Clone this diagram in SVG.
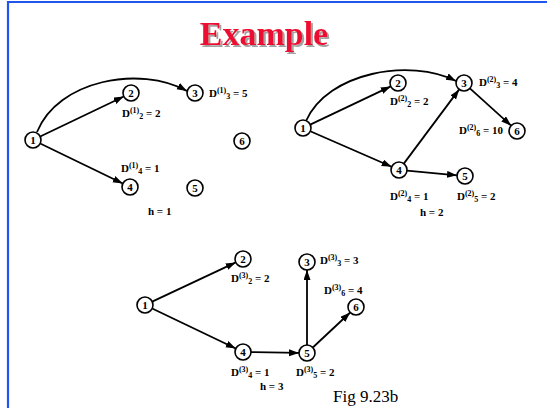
<svg xmlns="http://www.w3.org/2000/svg" width="547" height="408" viewBox="0 0 547 408">
<style>
.node circle{fill:#fff;stroke:#000;stroke-width:1.6}
.node text{font-family:"Liberation Serif",serif;font-weight:bold;font-size:11px;text-anchor:middle}
.lbl{font-family:"Liberation Serif",serif;font-weight:bold;font-size:11px;fill:#000}
.s{font-size:8px}
.edges path,.edges line{stroke:#000;stroke-width:1.8;fill:none;marker-end:url(#ah)}
</style>
<defs>
<marker id="ah" markerUnits="userSpaceOnUse" markerWidth="11" markerHeight="8" refX="10" refY="3.5" orient="auto">
<path d="M0,0 L10,3.5 L0,7 z" fill="#000"/>
</marker>
<filter id="sh" x="-10%" y="-20%" width="120%" height="150%">
<feDropShadow dx="2" dy="2" stdDeviation="0.6" flood-color="#999" flood-opacity="0.9"/>
</filter>
</defs>
<rect width="547" height="408" fill="#fff"/>
<path d="M8,408 V2 H547" fill="none" stroke="#2255ee" stroke-width="2.2"/>
<text x="264" y="45" font-family="Liberation Serif,serif" font-weight="bold" font-size="34" fill="#ee1133" text-anchor="middle" filter="url(#sh)">Example</text>

<g class="edges">
<line x1="40.2" y1="136.5" x2="123.8" y2="96.5"/>
<line x1="40.2" y1="143.5" x2="122.8" y2="183.5"/>
<path d="M37,132 C58,80 140,65 187,91"/>
<line x1="310.2" y1="124.6" x2="390.8" y2="86.4"/>
<line x1="310.3" y1="131.2" x2="391.7" y2="166.8"/>
<path d="M306,121 C328,72 410,58 456,81"/>
<line x1="403.8" y1="163.6" x2="459.2" y2="89.4"/>
<line x1="469.9" y1="88.4" x2="511.1" y2="125.6"/>
<line x1="407" y1="170.7" x2="457" y2="175.3"/>
<line x1="152.2" y1="301.6" x2="235.8" y2="262.4"/>
<line x1="152.2" y1="308.5" x2="235.8" y2="348.5"/>
<line x1="251" y1="352.1" x2="299" y2="352.9"/>
<line x1="307" y1="345" x2="307" y2="270"/>
<line x1="312.8" y1="347.5" x2="350.2" y2="312.5"/>
</g>

<g id="p1n1" class="node"><circle cx="33" cy="140" r="8"/><text x="33" y="144">1</text></g>
<g id="p1n2" class="node"><circle cx="131" cy="93" r="8"/><text x="131" y="97">2</text></g>
<g id="p1n3" class="node"><circle cx="195" cy="93" r="8"/><text x="195" y="97">3</text></g>
<g id="p1n4" class="node"><circle cx="130" cy="187" r="8"/><text x="130" y="191">4</text></g>
<g id="p1n5" class="node"><circle cx="195" cy="188" r="8"/><text x="195" y="192">5</text></g>
<g id="p1n6" class="node"><circle cx="242" cy="141" r="8"/><text x="242" y="145">6</text></g>

<g id="p2n1" class="node"><circle cx="303" cy="128" r="8"/><text x="303" y="132">1</text></g>
<g id="p2n2" class="node"><circle cx="398" cy="83" r="8"/><text x="398" y="87">2</text></g>
<g id="p2n3" class="node"><circle cx="464" cy="83" r="8"/><text x="464" y="87">3</text></g>
<g id="p2n4" class="node"><circle cx="399" cy="170" r="8"/><text x="399" y="174">4</text></g>
<g id="p2n5" class="node"><circle cx="465" cy="176" r="8"/><text x="465" y="180">5</text></g>
<g id="p2n6" class="node"><circle cx="517" cy="131" r="8"/><text x="517" y="135">6</text></g>

<g id="p3n1" class="node"><circle cx="145" cy="305" r="8"/><text x="145" y="309">1</text></g>
<g id="p3n2" class="node"><circle cx="243" cy="259" r="8"/><text x="243" y="263">2</text></g>
<g id="p3n3" class="node"><circle cx="307" cy="262" r="8"/><text x="307" y="266">3</text></g>
<g id="p3n4" class="node"><circle cx="243" cy="352" r="8"/><text x="243" y="356">4</text></g>
<g id="p3n5" class="node"><circle cx="307" cy="353" r="8"/><text x="307" y="357">5</text></g>
<g id="p3n6" class="node"><circle cx="356" cy="307" r="8"/><text x="356" y="311">6</text></g>

<g id="labels">
<text class="lbl" x="209" y="97">D<tspan class="s" dy="-4">(1)</tspan><tspan class="s" dy="6">3</tspan><tspan dy="-2"> = 5</tspan></text>
<text class="lbl" x="122" y="117">D<tspan class="s" dy="-4">(1)</tspan><tspan class="s" dy="6">2</tspan><tspan dy="-2"> = 2</tspan></text>
<text class="lbl" x="121" y="172">D<tspan class="s" dy="-4">(1)</tspan><tspan class="s" dy="6">4</tspan><tspan dy="-2"> = 1</tspan></text>
<text class="lbl" x="148" y="215">h = 1</text>

<text class="lbl" x="479" y="86">D<tspan class="s" dy="-4">(2)</tspan><tspan class="s" dy="6">3</tspan><tspan dy="-2"> = 4</tspan></text>
<text class="lbl" x="390" y="105">D<tspan class="s" dy="-4">(2)</tspan><tspan class="s" dy="6">2</tspan><tspan dy="-2"> = 2</tspan></text>
<text class="lbl" x="459" y="134">D<tspan class="s" dy="-4">(2)</tspan><tspan class="s" dy="6">6</tspan><tspan dy="-2"> = 10</tspan></text>
<text class="lbl" x="390" y="200">D<tspan class="s" dy="-4">(2)</tspan><tspan class="s" dy="6">4</tspan><tspan dy="-2"> = 1</tspan></text>
<text class="lbl" x="457" y="200">D<tspan class="s" dy="-4">(2)</tspan><tspan class="s" dy="6">5</tspan><tspan dy="-2"> = 2</tspan></text>
<text class="lbl" x="420" y="216">h = 2</text>

<text class="lbl" x="320" y="264">D<tspan class="s" dy="-4">(3)</tspan><tspan class="s" dy="6">3</tspan><tspan dy="-2"> = 3</tspan></text>
<text class="lbl" x="231" y="282">D<tspan class="s" dy="-4">(3)</tspan><tspan class="s" dy="6">2</tspan><tspan dy="-2"> = 2</tspan></text>
<text class="lbl" x="324" y="294">D<tspan class="s" dy="-4">(3)</tspan><tspan class="s" dy="6">6</tspan><tspan dy="-2"> = 4</tspan></text>
<text class="lbl" x="231" y="376">D<tspan class="s" dy="-4">(3)</tspan><tspan class="s" dy="6">4</tspan><tspan dy="-2"> = 1</tspan></text>
<text class="lbl" x="296" y="376">D<tspan class="s" dy="-4">(3)</tspan><tspan class="s" dy="6">5</tspan><tspan dy="-2"> = 2</tspan></text>
<text class="lbl" x="260" y="390">h = 3</text>
<text x="333" y="402" font-family="Liberation Serif,serif" font-size="17" fill="#000">Fig 9.23b</text>
</g>
</svg>
